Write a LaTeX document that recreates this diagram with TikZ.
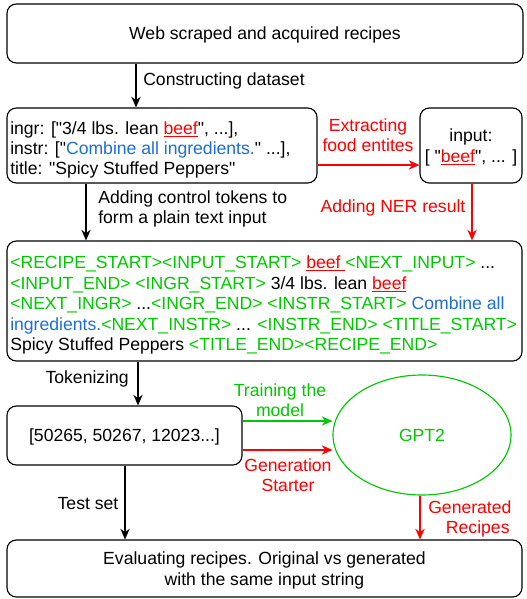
\documentclass[tikz,border=0pt]{standalone}
\usepackage{fontspec}
\setmainfont{Liberation Sans}[Ligatures=TeXOff]
\usetikzlibrary{arrows.meta,shapes.geometric}
\definecolor{tokgreen}{RGB}{0,200,0}
\definecolor{nerred}{RGB}{255,0,0}
\definecolor{instblue}{RGB}{30,110,215}
\newcommand{\tg}[1]{\textcolor{tokgreen}{#1}}
\newcommand{\tr}[1]{\textcolor{nerred}{\underline{#1}}}
\newcommand{\tb}[1]{\textcolor{instblue}{#1}}
\tikzset{
  box/.style={draw, line width=0.85pt, rounded corners=7pt, inner sep=0pt, text depth=0pt},
  arr/.style={-{Stealth[length=8pt,width=7pt]}, line width=0.85pt},
  lbl/.style={inner sep=0pt, align=center, font=\fontsize{13.2}{15.2}\selectfont},
}
\begin{document}
\begin{tikzpicture}[x=0.75pt,y=-0.75pt,font=\fontsize{13.2}{15.2}\selectfont]
\useasboundingbox (0,0) rectangle (526,599);

% boxes
\node[box, minimum width=516*0.75pt, minimum height=59*0.75pt] (web) at (265,33.5) {Web scraped and acquired recipes};
\node[box, minimum width=310*0.75pt, minimum height=75*0.75pt] (rec) at (162,145.5) {};
\node[lbl, align=left, anchor=west] (rectext) at (10,150) {ingr: ["3/4 lbs. lean \tr{beef}", ...],\\instr: ["\tb{Combine all ingredients.}" ...],\\title: "Spicy Stuffed Peppers"};
\node[box, minimum width=102*0.75pt, minimum height=75*0.75pt, align=center] (inp) at (471,145.5) {input:\\{}[ "\tr{beef}", ... ]};
\node[box, minimum width=515*0.75pt, minimum height=120*0.75pt] (plain) at (264.5,301) {};
\node[lbl, align=left, anchor=west, font=\fontsize{13.2}{15.4}\selectfont] (plaintext) at (10,305) {%
\tg{<RECIPE\_START><INPUT\_START>} \tr{beef\ }\tg{<NEXT\_INPUT>} ...\\
\tg{<INPUT\_END> <INGR\_START>} 3/4 lbs. lean \tr{beef}\\
\tg{<NEXT\_INGR>} ...\tg{<INGR\_END> <INSTR\_START>} \tb{Combine all}\\
\tb{ingredients.}\tg{<NEXT\_INSTR>} ... \tg{<INSTR\_END> <TITLE\_START>}\\
Spicy Stuffed Peppers \tg{<TITLE\_END><RECIPE\_END>}};
\node[box, minimum width=235*0.75pt, minimum height=59*0.75pt] (tok) at (124.5,435.5) {[50265, 50267, 12023...]};
\node[draw=tokgreen, line width=0.85pt, ellipse, minimum width=178*0.75pt, minimum height=120*0.75pt, text=tokgreen, text depth=0pt] (gpt) at (422,435) {GPT2};
\node[box, minimum width=515*0.75pt, minimum height=57*0.75pt, align=center] (eval) at (264.5,568.5) {Evaluating recipes. Original vs generated\\with the same input string};

% helper x positions for the vertical connectors
\coordinate (x1) at (136,0);
\coordinate (x2) at (86,0);
\coordinate (x3) at (472,0);
\coordinate (x4) at (138,0);
\coordinate (x5) at (125,0);
\coordinate (x6) at (420,0);
\coordinate (y1) at (0,165);
\coordinate (y2) at (0,421);
\coordinate (y3) at (0,450);

% connectors
\draw[arr] (web.south -| x1) -- (rec.north -| x1);
\node[lbl, anchor=west] (l1) at (143,81) {Constructing dataset};

\draw[arr, nerred] (rec.east |- y1) -- (inp.west |- y1);
\node[lbl, text=nerred] (l2) at (368,135) {Extracting\\food entites};

\draw[arr] (rec.south -| x2) -- (plain.north -| x2);
\node[lbl, anchor=west, align=left] (l3) at (98,209) {Adding control tokens to\\form a plain text input};

\draw[arr, nerred] (inp.south -| x3) -- (plain.north -| x3);
\node[lbl, text=nerred] (l4) at (393,208) {Adding NER result};

\draw[arr] (plain.south -| x4) -- (tok.north -| x4);
\node[lbl, anchor=east] (l5) at (129,379) {Tokenizing};

\draw[arr, tokgreen] (tok.east |- y2) -- (gpt.west |- y2);
\node[lbl, text=tokgreen] (l6) at (280,400) {Training the\\model};

\draw[arr, nerred] (tok.east |- y3) -- (gpt.west |- y3);
\node[lbl, text=nerred] (l7) at (288,475) {Generation\\Starter};

\draw[arr] (tok.south -| x5) -- (eval.north -| x5);
\node[lbl] (l8) at (88,504) {Test set};

\draw[arr, nerred] (gpt.south -| x6) -- (eval.north -| x6);
\node[lbl, anchor=west, text=nerred] (l9) at (428,519) {Generated\\\hspace*{0.9em}Recipes};
\end{tikzpicture}
\end{document}
